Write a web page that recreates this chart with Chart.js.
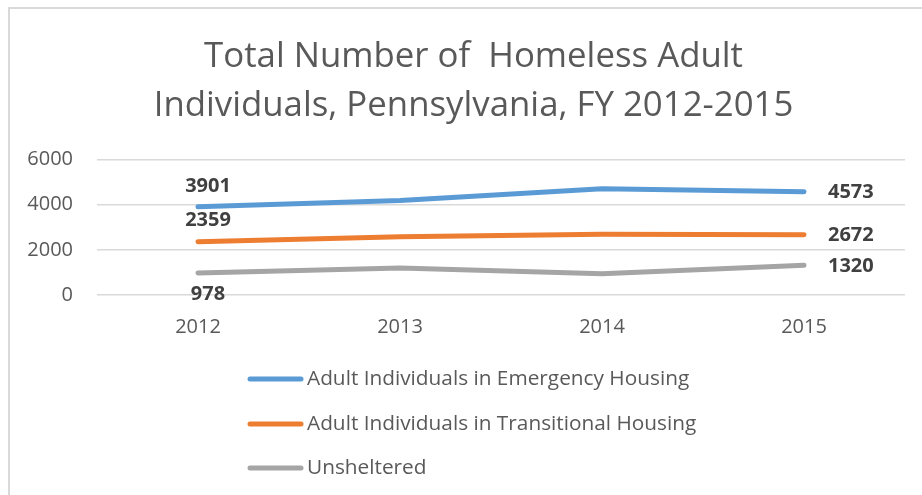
<!DOCTYPE html>
<html>
<head>
<meta charset="utf-8">
<script src="https://cdn.jsdelivr.net/npm/chart.js@4/dist/chart.umd.min.js"></script>
<style>
  html, body { margin: 0; padding: 0; background: #ffffff; }
  #wrap { position: relative; width: 922px; height: 495px; overflow: hidden; }
  #frame { position: absolute; left: 8px; top: 7px; width: 930px; height: 500px;
           border-left: 2px solid #d9d9d9; border-top: 2px solid #d9d9d9; pointer-events: none; }
  canvas { position: absolute; left: 0; top: 0; }
</style>
</head>
<body>
<div id="wrap">
  <canvas id="c" width="922" height="495"></canvas>
  <div id="frame"></div>
</div>
<script>
const categories = ['2012', '2013', '2014', '2015'];
const emergency = [3901, 4180, 4700, 4573];
const transitional = [2359, 2580, 2690, 2672];
const unsheltered = [978, 1190, 945, 1320];
const seriesNames = ['Adult Individuals in Emergency Housing', 'Adult Individuals in Transitional Housing', 'Unsheltered'];
const titleLines = ['Total Number of  Homeless Adult', 'Individuals, Pennsylvania, FY 2012-2015'];
const yTicks = [0, 2000, 4000, 6000];

const FONT = "'Open Sans', 'Noto Sans', sans-serif";
const TEXT = '#595959';

const shiftTitle = {
  id: 'shiftTitle',
  afterLayout(chart) {
    if (chart.titleBlock) { chart.titleBlock.left += 42; }
  }
};

const endLabels = {
  id: 'endLabels',
  afterDatasetsDraw(chart) {
    const ctx = chart.ctx;
    ctx.save();
    ctx.font = 'bold 20px ' + FONT;
    ctx.fillStyle = '#404040';
    ctx.textBaseline = 'middle';
    const firstDy = [-21, -21, 21];
    chart.data.datasets.forEach((ds, i) => {
      const meta = chart.getDatasetMeta(i);
      const first = meta.data[0];
      const last = meta.data[meta.data.length - 1];
      ctx.textAlign = 'center';
      ctx.fillText(String(ds.data[0]), first.x + 10, first.y + firstDy[i]);
      ctx.textAlign = 'left';
      ctx.fillText(String(ds.data[ds.data.length - 1]), last.x + 24, last.y + 1);
    });
    ctx.restore();
  }
};

const stackedLegend = {
  id: 'stackedLegend',
  afterDraw(chart) {
    const ctx = chart.ctx;
    ctx.save();
    ctx.font = '20.8px ' + FONT;
    ctx.fillStyle = TEXT;
    ctx.textBaseline = 'middle';
    ctx.textAlign = 'left';
    const rows = [379, 424, 468];
    chart.data.datasets.forEach((ds, i) => {
      const y = rows[i];
      ctx.strokeStyle = ds.borderColor;
      ctx.lineWidth = 5;
      ctx.lineCap = 'round';
      ctx.beginPath();
      ctx.moveTo(250, y);
      ctx.lineTo(301, y);
      ctx.stroke();
      ctx.fillText(ds.label, 307, y);
    });
    ctx.restore();
  }
};

const mk = (label, data, color) => ({
  label, data,
  borderColor: color, backgroundColor: color,
  borderWidth: 5, pointRadius: 0, pointHoverRadius: 0,
  tension: 0, borderCapStyle: 'round', borderJoinStyle: 'round', fill: false
});

new Chart(document.getElementById('c'), {
  type: 'line',
  data: {
    labels: categories,
    datasets: [
      mk(seriesNames[0], emergency, '#5b9bd5'),
      mk(seriesNames[1], transitional, '#ed7d31'),
      mk(seriesNames[2], unsheltered, '#a5a5a5')
    ]
  },
  options: {
    responsive: false,
    animation: false,
    devicePixelRatio: 1,
    layout: { padding: { left: 0, right: 17, top: 0, bottom: 150 } },
    plugins: {
      legend: { display: false },
      tooltip: { enabled: false },
      title: {
        display: true,
        text: titleLines,
        color: TEXT,
        font: { family: FONT, size: 34.8, weight: 'normal', lineHeight: 1.4 },
        padding: { top: 33, bottom: 29 }
      }
    },
    scales: {
      x: {
        offset: true,
        grid: { display: false },
        border: { display: false },
        ticks: { color: TEXT, font: { family: FONT, size: 20 }, padding: 12, maxRotation: 0 },
        afterFit(s) { s.height = 50; }
      },
      y: {
        min: 0, max: 6000,
        afterBuildTicks(s) { s.ticks = yTicks.map(v => ({ value: v })); },
        grid: { color: '#d9d9d9', lineWidth: 1.5, drawTicks: false },
        border: { display: false },
        ticks: { color: TEXT, font: { family: FONT, size: 20 }, padding: 24, callback: v => String(v) },
        afterFit(s) { s.width = 97; }
      }
    }
  },
  plugins: [shiftTitle, endLabels, stackedLegend]
});
</script>
</body>
</html>
